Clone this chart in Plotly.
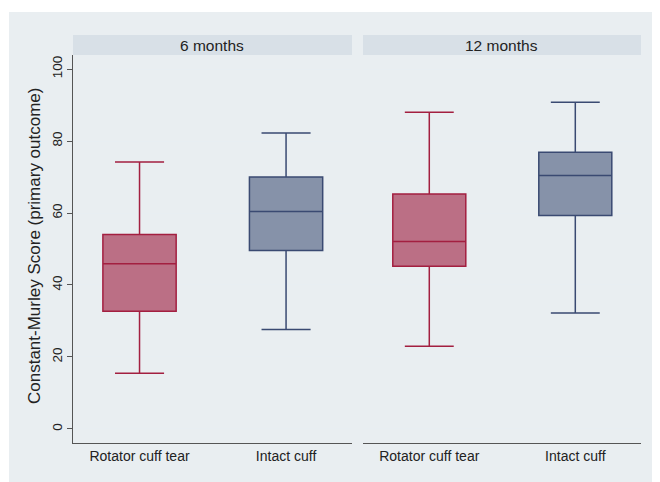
import plotly.graph_objects as go

categories = ["Rotator cuff tear", "Intact cuff"]
panels = ["6 months", "12 months"]

# [category] per panel
lower_6 = [15.5, 27.6]
q1_6 = [32.7, 49.6]
median_6 = [45.9, 60.4]
q3_6 = [54.0, 70.0]
upper_6 = [74.2, 82.2]

lower_12 = [23.0, 32.2]
q1_12 = [45.2, 59.3]
median_12 = [52.1, 70.4]
q3_12 = [65.3, 76.9]
upper_12 = [88.0, 90.8]

y_ticks = [0, 20, 40, 60, 80, 100]
y_title = "Constant-Murley Score (primary outcome)"

fills = ["#bb6f85", "#8692a9"]
lines = ["#a31f40", "#3a4a72"]

# page has an 8px body margin; figure is sized to fit the 660x482 window
OFF = 8
W, H = 660 - OFF, 482 - OFF
def px_x(v):
    return (v - OFF) / W
def px_y(v):
    return 1 - (v - OFF) / H

fig = go.Figure()
stats = [
    (lower_6, q1_6, median_6, q3_6, upper_6),
    (lower_12, q1_12, median_12, q3_12, upper_12),
]
for p, (lo, a, m, b, up) in enumerate(stats):
    xa = "x" if p == 0 else "x2"
    ya = "y" if p == 0 else "y2"
    for c, cat in enumerate(categories):
        fig.add_trace(go.Box(
            x=[cat], q1=[a[c]], median=[m[c]], q3=[b[c]],
            lowerfence=[lo[c]], upperfence=[up[c]],
            boxpoints=False, width=0.5, whiskerwidth=0.67,
            fillcolor=fills[c], line=dict(color=lines[c], width=1.5),
            xaxis=xa, yaxis=ya, showlegend=False, hoverinfo="skip",
        ))

font = "Liberation Sans, Arial, sans-serif"
dom1 = [px_x(73), px_x(352)]
dom2 = [px_x(363), px_x(641)]
ydom = [px_y(443), px_y(55)]
yr = [-3.9, 103.9]
xr = [-0.454, 1.45]

common_x = dict(type="category", categoryorder="array", categoryarray=categories,
                range=xr, showgrid=False, zeroline=False, showline=True,
                linecolor="#555555", linewidth=1.2, ticks="", ticklen=0,
                tickfont=dict(size=14, color="#222222", family=font))
common_y = dict(range=yr, tickvals=y_ticks, showgrid=True, gridcolor="#e8eef2",
                gridwidth=1, zeroline=False, domain=ydom)

fig.update_layout(
    width=W, height=H,
    margin=dict(l=0, r=0, t=0, b=0),
    paper_bgcolor="white",
    plot_bgcolor="white",
    font=dict(family=font, color="#222222"),
    xaxis=dict(domain=dom1, anchor="y", **common_x),
    xaxis2=dict(domain=dom2, anchor="y2", **common_x),
    yaxis=dict(anchor="x", showline=True, linecolor="#555555", linewidth=1.2,
               ticks="outside", ticklen=5, tickcolor="#555555", tickangle=-90,
               tickfont=dict(size=13.5, color="#222222"),
               **common_y),
    yaxis2=dict(anchor="x2", matches="y", showticklabels=False, showline=False,
                ticks="", **common_y),
    shapes=[
        dict(type="rect", xref="paper", yref="paper", x0=px_x(9), x1=1.01,
             y0=-0.01, y1=px_y(12), fillcolor="#e9eef1", line=dict(width=0),
             layer="below"),
        dict(type="rect", xref="paper", yref="paper", x0=dom1[0], x1=dom1[1],
             y0=ydom[1], y1=px_y(35), fillcolor="#d8e0e7", line=dict(width=0)),
        dict(type="rect", xref="paper", yref="paper", x0=dom2[0], x1=dom2[1],
             y0=ydom[1], y1=px_y(35), fillcolor="#d8e0e7", line=dict(width=0)),
    ],
    annotations=[
        dict(text=panels[0], xref="paper", yref="paper", x=sum(dom1) / 2,
             y=(ydom[1] + px_y(35)) / 2, showarrow=False, xanchor="center",
             yanchor="middle", font=dict(size=15.5, color="#222222")),
        dict(text=panels[1], xref="paper", yref="paper", x=sum(dom2) / 2,
             y=(ydom[1] + px_y(35)) / 2, showarrow=False, xanchor="center",
             yanchor="middle", font=dict(size=15.5, color="#222222")),
        dict(text=y_title, xref="paper", yref="paper", x=px_x(34),
             y=px_y(246), showarrow=False, textangle=-90, xanchor="center",
             yanchor="middle", font=dict(size=17, color="#222222")),
    ],
)

fig.write_html("out.html")
